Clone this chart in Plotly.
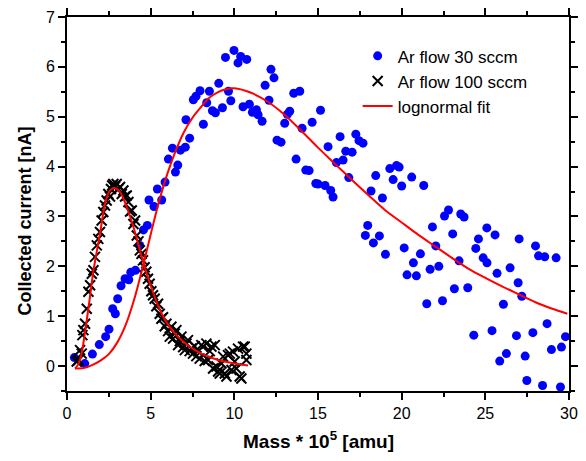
import plotly.graph_objects as go

# Ar flow 30 sccm (blue circles)
blue_x = [0.44, 1.06, 1.52, 1.93, 2.31, 2.51, 2.73, 2.89, 3.03, 3.23, 3.47, 3.69, 3.81, 4.09, 4.35, 4.57,
          4.80, 4.90, 5.20, 5.40, 5.66, 5.86, 6.06, 6.30, 6.48, 6.62, 6.78, 7.07, 7.11, 7.33, 7.55, 7.71,
          7.95, 8.15, 8.35, 8.51, 8.69, 8.87, 9.07, 9.29, 9.47, 9.65, 9.79, 9.98, 10.22, 10.38, 10.52,
          10.74, 10.90, 11.08, 11.32, 11.42, 11.66, 11.84, 12.07, 12.19, 12.37, 12.55, 12.79, 13.01,
          13.17, 13.31, 13.55, 13.69, 13.91, 14.05, 14.27, 14.47, 14.65, 14.87, 15.00, 15.15, 15.42,
          15.60, 15.76, 15.90, 16.10, 16.32, 16.50, 16.66, 16.84, 17.04, 17.26, 17.45, 17.69, 17.83,
          17.97, 18.17, 18.31, 18.45, 18.67, 18.85, 19.03, 19.29, 19.49, 19.69, 19.85, 20.00, 20.15,
          20.32, 20.60, 20.70, 20.88, 21.12, 21.32, 21.50, 21.70, 21.84, 22.04, 22.22, 22.44, 22.56,
          22.80, 23.05, 23.15, 23.43, 23.53, 23.73, 23.95, 24.31, 24.43, 24.59, 24.87, 25.09, 25.10,
          25.40, 25.58, 25.70, 25.86, 26.08, 26.26, 26.48, 26.86, 26.96, 27.02, 27.18, 27.38, 27.48,
          27.84, 28.00, 28.18, 28.42, 28.55, 28.69, 28.95, 29.23, 29.49, 29.55, 29.79]
blue_y = [0.17, 0.05, 0.24, 0.43, 0.59, 0.74, 1.15, 1.05, 1.35, 1.61, 1.75, 1.73, 1.88, 1.92, 2.42, 2.73,
          2.82, 3.33, 3.20, 3.55, 3.33, 3.69, 4.15, 4.37, 3.89, 4.03, 4.33, 4.39, 4.94, 4.57, 5.34, 5.41,
          5.52, 4.85, 5.28, 5.51, 5.12, 5.08, 5.67, 5.18, 6.19, 5.51, 5.32, 6.33, 6.08, 6.21, 5.20,
          6.15, 5.25, 5.09, 5.14, 5.04, 4.91, 5.63, 5.33, 5.95, 5.78, 4.53, 4.49, 4.87,
          5.05, 5.11, 5.47, 4.15, 5.51, 4.77, 3.93, 3.92, 4.89, 3.66, 3.65, 5.13, 3.62,
          4.40, 3.52, 3.39, 4.08, 4.60, 4.13, 4.31, 3.78, 4.29, 4.65, 4.52, 4.47, 2.62,
          2.82, 3.51, 2.47, 3.82, 2.61, 3.37, 2.24, 3.96, 3.74, 4.02, 3.99, 3.61, 2.37,
          1.83, 3.79, 2.07, 1.81, 2.25, 3.62, 1.25, 1.94, 2.79, 2.41, 2.00, 1.31, 3.01,
          3.13, 2.65, 1.55, 2.11, 3.05, 2.99, 1.57, 0.62, 2.36, 2.55, 2.17, 2.77, 2.07,
          0.71, 2.63, 1.86, 0.10, 1.24, 0.25, 1.97, 0.61, 1.67, 2.55, 1.40, 0.20, -0.29,
          0.67, 2.41, 2.21, -0.39, 2.19, 0.85, 0.33, 2.17, -0.42, 0.38, 0.59]

# Ar flow 100 sccm (black crosses)
black_x = [0.58, 0.68, 0.78, 0.88, 0.92, 0.98, 1.08, 1.18, 1.28, 1.38, 1.48, 1.58, 1.67, 1.78, 1.87, 1.97,
           2.07, 2.17, 2.27, 2.37, 2.47, 2.57, 2.63, 2.70, 2.77, 2.87, 2.97, 3.07, 3.17, 3.27, 3.37, 3.47,
           3.57, 3.67, 3.77, 3.87, 3.97, 4.07, 4.17, 4.27, 4.35, 4.45, 4.54, 4.64, 4.74, 4.84, 4.94, 5.04,
           5.14, 5.24, 5.34, 5.44, 5.54, 5.64, 5.74, 5.84, 5.94, 6.04, 6.14, 6.24, 6.34, 6.44, 6.54, 6.64,
           6.74, 6.84, 6.94, 7.04, 7.14, 7.23, 7.33, 7.43, 7.53, 7.63, 7.73, 7.83, 7.93, 8.03, 8.13, 8.23,
           8.33, 8.43, 8.53, 8.63, 8.73, 8.83, 8.93, 9.03, 9.13, 9.23, 9.33, 9.43, 9.53, 9.62, 9.73, 9.83,
           9.92, 10.02, 10.12, 10.22, 10.32, 10.42, 10.52, 10.62, 10.72, 10.72]
black_y = [0.09, 0.12, 0.32, 0.25, 0.62, 0.72, 0.85, 1.15, 1.49, 1.62, 1.85, 1.92, 2.19, 2.42, 2.55, 2.69,
           2.92, 3.09, 3.22, 3.32, 3.45, 3.40, 3.55, 3.62, 3.65, 3.60, 3.65, 3.55, 3.59, 3.45, 3.52, 3.40,
           3.42, 3.29, 3.10, 3.12, 2.85, 2.92, 2.62, 2.50, 2.32, 2.25, 2.12, 1.98, 1.89, 1.75, 1.65, 1.50,
           1.42, 1.35, 1.20, 1.25, 1.05, 0.95, 0.98, 0.80, 0.85, 0.70, 0.59, 0.79, 0.55, 0.65, 0.72, 0.42,
           0.50, 0.59, 0.38, 0.32, 0.45, 0.52, 0.30, 0.35, 0.25, 0.40, 0.20, 0.30, 0.15, 0.42, 0.39, 0.10,
           0.45, 0.12, 0.30, 0.39, -0.05, 0.42, -0.01, -0.11, -0.15, 0.05, 0.19, -0.15, -0.21, 0.22, 0.25, -0.08,
           0.29, 0.09, -0.05, 0.35, -0.21, -0.25, 0.39, 0.39, 0.12, 0.25]

# lognormal fit curves
fit30_x = [0.48, 1.0, 1.5, 2.0, 2.5, 3.0, 3.5, 4.0, 4.5, 5.0, 5.5, 6.0, 6.5, 7.0, 7.5, 8.0, 8.5, 9.0,
           9.5, 10.0, 11.0, 12.0, 13.0, 14.0, 15.0, 16.0, 17.0, 18.0, 19.0, 20.0, 21.0, 22.0, 23.0,
           24.0, 25.0, 26.0, 27.0, 28.0, 29.0, 29.9]
fit30_y = [-0.05, -0.04, 0.02, 0.11, 0.24, 0.47, 0.82, 1.32, 1.95, 2.64, 3.30, 3.86, 4.32, 4.70, 4.98,
           5.19, 5.38, 5.49, 5.55, 5.57, 5.48, 5.30, 5.04, 4.72, 4.38, 4.06, 3.74, 3.43, 3.13, 2.88,
           2.63, 2.40, 2.17, 1.95, 1.77, 1.60, 1.44, 1.28, 1.15, 1.05]
fit100_x = [0.48, 0.7, 0.88, 1.05, 1.18, 1.38, 1.55, 1.77, 1.97, 2.27, 2.51, 2.77, 3.0, 3.17, 3.37,
            3.57, 3.97, 4.47, 4.96, 5.66, 6.46, 7.65, 9.05, 10.82]
fit100_y = [-0.05, 0.05, 0.26, 0.62, 0.92, 1.40, 1.85, 2.28, 2.65, 3.25, 3.49, 3.57, 3.55, 3.49,
            3.36, 3.19, 2.79, 2.19, 1.65, 1.05, 0.65, 0.32, 0.12, 0.01]

FONT = "Liberation Sans, Arial, sans-serif"

fig = go.Figure()
fig.add_trace(go.Scatter(x=blue_x, y=blue_y, mode="markers", name="Ar flow 30 sccm",
                         marker=dict(symbol="circle", size=9, color="#0000ff", line=dict(width=0))))
fig.add_trace(go.Scatter(x=black_x, y=black_y, mode="markers", name="Ar flow 100 sccm",
                         marker=dict(symbol="x-thin-open", size=10, color="black",
                                     line=dict(width=2, color="black"))))
fig.add_trace(go.Scatter(x=fit30_x, y=fit30_y, mode="lines", name="lognormal fit",
                         line=dict(color="#ff0000", width=2, shape="spline", smoothing=0.8)))
fig.add_trace(go.Scatter(x=fit100_x, y=fit100_y, mode="lines", showlegend=False,
                         line=dict(color="#ff0000", width=2, shape="spline", smoothing=0.8)))

axis_common = dict(showline=True, linecolor="black", linewidth=2, mirror="allticks",
                   ticks="outside", ticklen=7, tickwidth=1.5, tickcolor="black",
                   showgrid=False, zeroline=False, automargin=False,
                   tickfont=dict(family=FONT, size=16, color="black"))
minor_common = dict(ticks="outside", ticklen=4, tickwidth=1.5, tickcolor="black")

fig.update_xaxes(range=[0, 30], tick0=0, dtick=5, minor=dict(dtick=2.5, **minor_common), **axis_common)
fig.update_yaxes(range=[-0.5, 7], tick0=0, dtick=1, minor=dict(dtick=0.5, **minor_common), **axis_common)

# the page body adds an 8px margin; figure is sized so the plot area lands where the reference has it
fig.update_layout(
    width=578, height=453,
    margin=dict(l=59, r=17, t=9, b=70),
    paper_bgcolor="white", plot_bgcolor="white",
    font=dict(family=FONT, color="black"),
    showlegend=True,
    legend=dict(x=0.579, y=0.943, xanchor="left", yanchor="top",
                bgcolor="rgba(0,0,0,0)", font=dict(family=FONT, size=17, color="black"),
                tracegroupgap=0),
    annotations=[
        dict(text="<b>Collected current [nA]</b>", xref="paper", yref="paper",
             x=-0.0843, y=0.455, xanchor="center", yanchor="middle", textangle=-90,
             showarrow=False, font=dict(family=FONT, size=18, color="black")),
        dict(text="<b>Mass * 10<sup>5</sup> [amu]</b>", xref="paper", yref="paper",
             x=0.5, y=-0.13, xanchor="center", yanchor="middle",
             showarrow=False, font=dict(family=FONT, size=19, color="black")),
    ],
)

fig.write_html("out.html")
